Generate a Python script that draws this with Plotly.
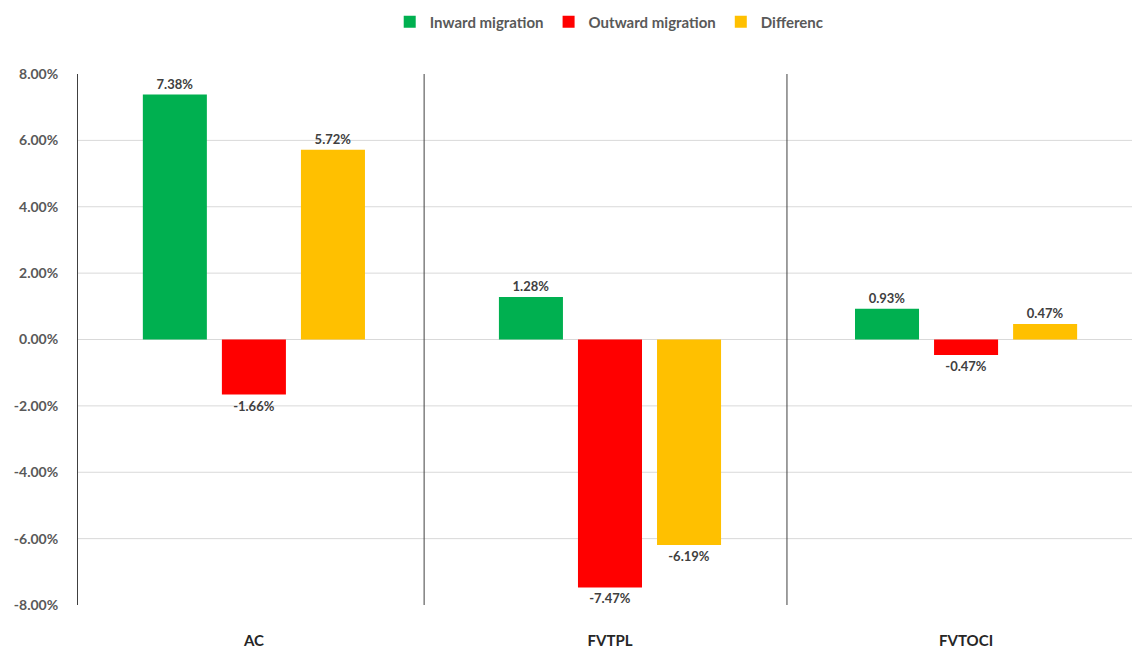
import plotly.graph_objects as go

# Migration shares by measurement category
categories = ["AC", "FVTPL", "FVTOCI"]
inward = [7.38, 1.28, 0.93]
outward = [-1.66, -7.47, -0.47]
difference = [5.72, -6.19, 0.47]

series_names = ["Inward migration", "Outward migration", "Differenc"]
series_colors = ["#00B050", "#FF0000", "#FFC000"]

y_ticks = [-8, -6, -4, -2, 0, 2, 4, 6, 8]
y_tick_text = [f"{v:.2f}%" for v in y_ticks]
separator_positions = [0.478, 1.497]

FONT = "Lato"

fig = go.Figure()
for name, vals, color in zip(series_names, [inward, outward, difference], series_colors):
    fig.add_trace(go.Bar(
        name=name,
        x=categories,
        y=vals,
        marker=dict(color=color, line=dict(width=0)),
        texttemplate="%{y:.2f}%",
        textposition="outside",
        textfont=dict(family=FONT, size=13, color="#404040", weight="bold"),
        cliponaxis=False,
    ))

shapes = []
# light horizontal gridlines (inner ticks only)
for v in y_ticks[1:-1]:
    shapes.append(dict(type="line", xref="paper", yref="y", x0=0, x1=1, y0=v, y1=v,
                       line=dict(color="#D9D9D9", width=1), layer="below"))
# dark vertical separators between categories
for xp in separator_positions:
    shapes.append(dict(type="line", xref="x", yref="paper", x0=xp, x1=xp, y0=0, y1=1,
                       line=dict(color="#404040", width=1), layer="above"))

fig.update_layout(
    width=1132, height=651,
    margin=dict(l=78, r=0, t=74, b=46),
    paper_bgcolor="white", plot_bgcolor="white",
    barmode="group", bargap=0.334, bargroupgap=0.19,
    shapes=shapes,
    showlegend=True,
    legend=dict(orientation="h", x=0.504, xanchor="center", y=1.098, yanchor="middle",
                font=dict(family=FONT, size=15, color="#595959", weight="bold"),
                itemwidth=30, traceorder="normal"),
    xaxis=dict(
        range=[-0.494, 2.466],
        showgrid=False, zeroline=False, showline=False, ticks="",
        tickfont=dict(family=FONT, size=15, color="#262626", weight="bold"),
        ticklabelstandoff=25,
    ),
    yaxis=dict(
        range=[-8, 8],
        tickvals=y_ticks,
        ticktext=y_tick_text,
        showgrid=False, zeroline=False,
        showline=True, linecolor="#404040", linewidth=1,
        ticks="", ticklabelstandoff=16,
        tickfont=dict(family=FONT, size=14, color="#595959", weight="bold"),
    ),
)

fig.write_html("out.html")
